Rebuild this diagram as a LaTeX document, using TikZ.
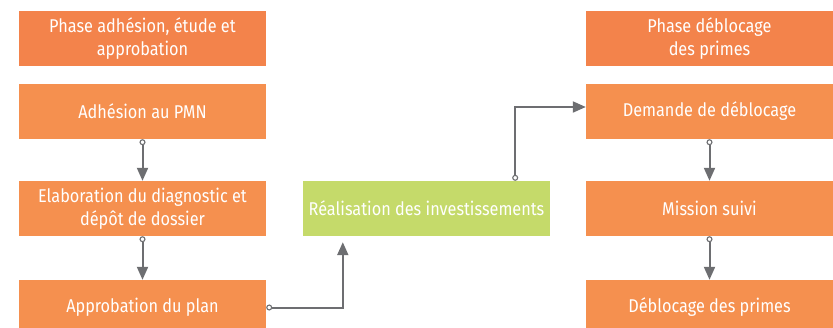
\documentclass[tikz,border=0pt]{standalone}
\usepackage{fontspec}
\setmainfont{Fira Sans}[FakeStretch=0.88]
\usetikzlibrary{arrows.meta}
\definecolor{hdr}{HTML}{F3834B}
\definecolor{stp}{HTML}{F5904F}
\definecolor{grn}{HTML}{C5DA6A}
\definecolor{arr}{HTML}{6D6E71}
\tikzset{
  box/.style={rectangle, minimum width=247pt, minimum height=55pt, inner sep=0pt,
    text=white, align=center, font=\fontsize{18.5}{23}\selectfont},
  hbox/.style={box, fill=hdr},
  sbox/.style={box, fill=stp},
  gbox/.style={box, fill=grn},
  conn/.style={draw=arr, line width=2pt,
    {Circle[open,length=6pt,width=6pt,line width=1.1pt,fill=white]}-{Triangle[length=13pt,width=11pt]}}
}
\begin{document}
\begin{tikzpicture}[x=1pt,y=-1pt]
\useasboundingbox (0,0) rectangle (833,327);
\begin{scope}
\clip (0,0) rectangle (833,327);
\node[hbox] (h1) at (142.5,38.5) {Phase adhésion, étude et\\approbation};
\node[sbox] (a1) at (142.5,111.5) {Adhésion au PMN};
\node[sbox] (a2) at (142.5,208.5) {Elaboration du diagnostic et\\dépôt de dossier};
\node[sbox] (a3) at (142.5,307.5) {Approbation du plan};
\node[gbox] (g) at (426.5,208.5) {Réalisation des investissements};
\node[hbox] (h2) at (709.5,38.5) {Phase déblocage\\des primes};
\node[sbox] (b1) at (709.5,111.5) {Demande de déblocage};
\node[sbox] (b2) at (709.5,208.5) {Mission suivi};
\node[sbox] (b3) at (709.5,307.5) {Déblocage des primes};
\end{scope}
\draw[conn] (a1.south) -- (a2.north);
\draw[conn] (a2.south) -- (a3.north);
\draw[conn, shorten >=6pt] (a3.east) -| ([xshift=40pt]g.south west);
\draw[conn] ([xshift=-35pt]g.north east) |- ([yshift=4.5pt]b1.west);
\draw[conn] (b1.south) -- (b2.north);
\draw[conn] (b2.south) -- (b3.north);
\end{tikzpicture}
\end{document}
